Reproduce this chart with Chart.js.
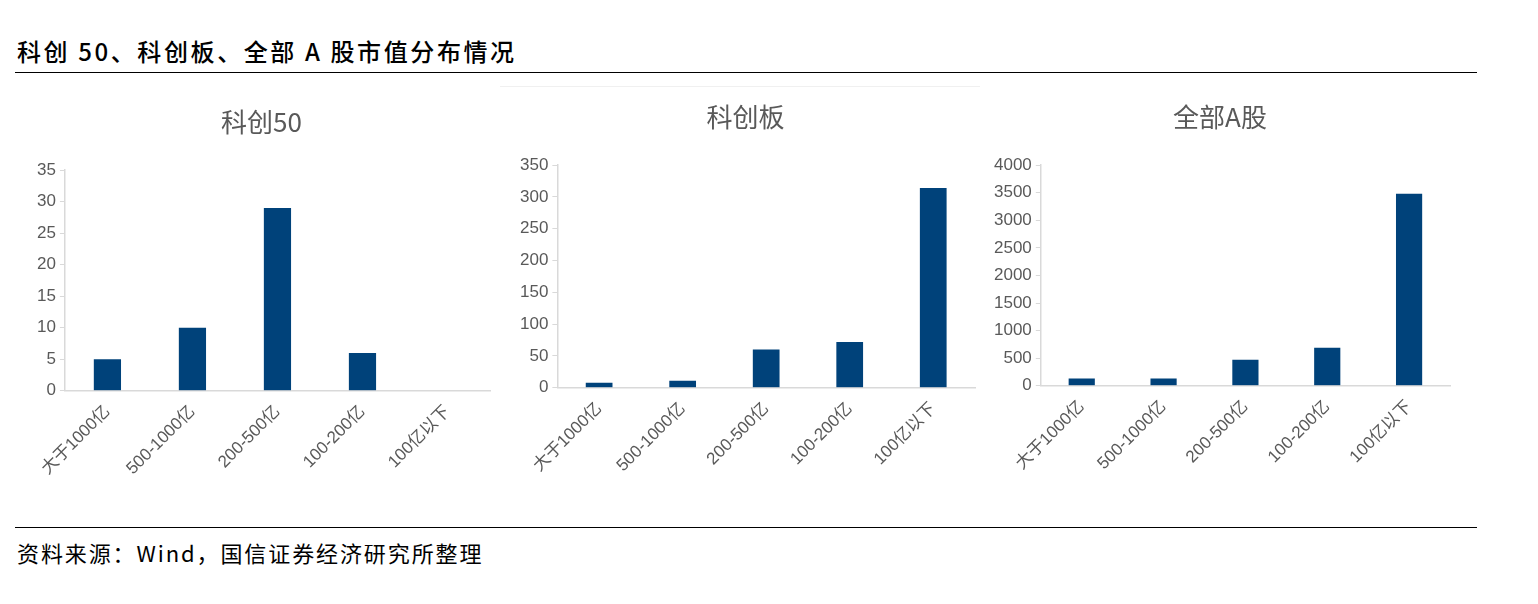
<!DOCTYPE html>
<html>
<head>
<meta charset="utf-8">
<script src="https://cdn.jsdelivr.net/npm/chart.js@4"></script>
<style>
  body { margin: 0; background: #fff; font-family: "Noto Sans CJK SC", sans-serif; }
  #page { position: relative; width: 1538px; height: 604px; }
  .head { position: absolute; left: 17px; top: 33px; font-size: 24px; letter-spacing: 2.6px; color: #000; font-weight: 500; }
  .rule { position: absolute; left: 15px; width: 1462px; height: 1px; background: #000; }
  .src { position: absolute; left: 17px; top: 536px; font-size: 22px; letter-spacing: 1.9px; color: #000; }
  .box { position: absolute; }
  .faint { position: absolute; left: 500px; top: 86px; width: 480px; height: 1px; background: #f0f0f0; }
</style>
</head>
<body>
<div id="page">
  <div class="head">科创 50、科创板、全部 A 股市值分布情况</div>
  <div class="rule" style="top:72px"></div>
  <div class="faint"></div>
  <div class="box" style="left:20px; top:95px; width:490px; height:405px;"><canvas id="c1"></canvas></div>
  <div class="box" style="left:514px; top:90px; width:476px; height:410px;"><canvas id="c2"></canvas></div>
  <div class="box" style="left:990px; top:90px; width:470px; height:410px;"><canvas id="c3"></canvas></div>
  <div class="rule" style="top:527px"></div>
  <div class="src">资料来源：Wind，国信证券经济研究所整理</div>
</div>
<script>
var categories = ["大于1000亿", "500-1000亿", "200-500亿", "100-200亿", "100亿以下"];
var kc50 = [5, 10, 29, 6, 0];
var kcb = [8, 11, 60, 72, 314];
var allA = [130, 130, 470, 690, 3480];

var barColor = "#00427a";
var textGray = "#595959";
var axisGray = "#d9d9d9";

function makeChart(id, title, values, maxVal, step, pad) {
  var ctx = document.getElementById(id).getContext("2d");
  return new Chart(ctx, {
    type: "bar",
    data: {
      labels: categories,
      datasets: [{
        label: title,
        data: values,
        backgroundColor: barColor,
        barPercentage: 0.8,
        categoryPercentage: 0.4
      }]
    },
    options: {
      responsive: true,
      maintainAspectRatio: false,
      animation: false,
      layout: { padding: { left: pad.left, right: pad.right, top: 0, bottom: pad.bottom } },
      plugins: {
        legend: { display: false },
        tooltip: { enabled: false },
        title: {
          display: true,
          text: title,
          color: textGray,
          font: { family: "Noto Sans CJK SC", size: 26, weight: "normal" },
          padding: { top: pad.titleTop, bottom: 32 }
        }
      },
      scales: {
        x: {
          grid: { display: false },
          border: { display: true, color: axisGray, width: 1.5 },
          ticks: {
            color: textGray,
            minRotation: 45,
            maxRotation: 45,
            font: { family: "Liberation Sans, Noto Sans CJK SC", size: 17 }
          }
        },
        y: {
          min: 0,
          max: maxVal,
          grid: { drawOnChartArea: false, drawTicks: true, tickLength: 5, color: axisGray },
          border: { display: true, color: axisGray, width: 1.5 },
          ticks: {
            stepSize: step,
            color: textGray,
            padding: 4,
            font: { family: "Liberation Sans", size: 17 },
            callback: function (v) { return v; }
          }
        }
      }
    }
  });
}

makeChart("c1", "科创50", kc50, 35, 5, { left: 13, right: 20, bottom: 18, titleTop: 12 });
makeChart("c2", "科创板", kcb, 350, 50, { left: 2, right: 15, bottom: 21, titleTop: 12 });
makeChart("c3", "全部A股", allA, 4000, 500, { left: 0, right: 10, bottom: 23, titleTop: 12 });
</script>
</body>
</html>
